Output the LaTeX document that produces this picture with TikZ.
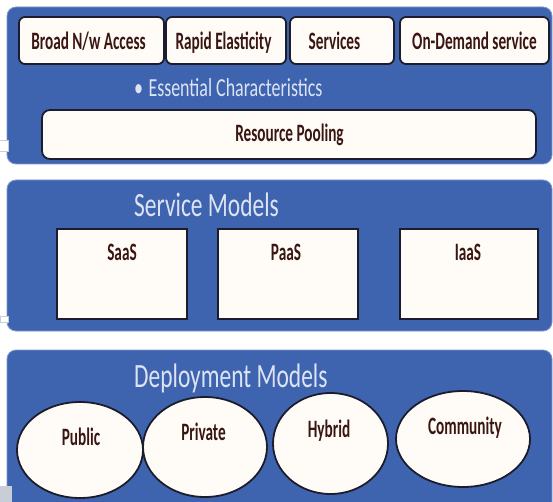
\documentclass[tikz,border=0pt]{standalone}
\usepackage{fontspec}
\setmainfont{Carlito}
\usepackage{graphicx}
\usetikzlibrary{shapes.geometric}

\definecolor{panelblue}{HTML}{3E64B0}
\definecolor{panelrim}{HTML}{7F98CC}
\definecolor{titletext}{HTML}{DDE3F3}
\definecolor{labeltext}{HTML}{3A1612}
\definecolor{boxfill}{HTML}{FFFCF7}
\definecolor{boxline}{HTML}{1C1C2C}
\definecolor{tabgray}{HTML}{C9CDD8}

% condensed lettering used throughout
\newcommand{\condensed}[1]{\scalebox{0.69}[1]{#1}}
\newcommand{\tightlbl}[1]{\scalebox{0.61}[1]{#1}}

\tikzset{
  panel/.style={fill=panelblue, draw=panelrim, line width=0.8pt,
    rounded corners=9pt, inner sep=0pt},
  charbox/.style={draw=boxline, fill=boxfill, line width=1.8pt,
    rounded corners=6pt, inner sep=0pt, minimum height=47pt},
  modelbox/.style={draw=boxline, fill=boxfill, line width=1.8pt,
    inner sep=0pt, minimum height=90pt},
  deploy/.style={ellipse, draw=boxline, fill=boxfill, line width=1.8pt,
    inner sep=0pt},
  lbl/.style={text=labeltext, font=\fontsize{25}{27}\selectfont\bfseries,
    inner sep=0pt, anchor=base},
  heading/.style={text=titletext, inner sep=0pt, anchor=base west},
  tab/.style={draw=tabgray, fill=white, line width=0.6pt, inner sep=0pt},
}

\begin{document}
\begin{tikzpicture}[x=1pt,y=-1pt]
  \useasboundingbox (0,0) rectangle (553,502);
  \clip (0,0) rectangle (553,502);
  \fill[white] (0,0) rectangle (553,502);

  % three layer panels
  \node[panel, minimum width=545pt, minimum height=157pt] (chars)   at (279.5,85.5)  {};
  \node[panel, minimum width=545pt, minimum height=151pt] (service) at (279.5,255.5) {};
  \node[panel, minimum width=545pt, minimum height=170pt] (deployp) at (279.5,435)   {};

  % essential characteristics
  \node[charbox, minimum width=145pt] (broad)  at (91.5,40.5)  {};
  \node[charbox, minimum width=120pt] (rapid)  at (226,40.5)   {};
  \node[charbox, minimum width=104pt] (servs)  at (342,40.5)   {};
  \node[charbox, minimum width=149pt] (demand) at (474.5,40.5) {};
  \node[lbl] (broadt)  at (88.5,50)  {\tightlbl{Broad N/w Access}};
  \node[lbl] (rapidt)  at (223.5,50) {\tightlbl{Rapid Elasticity}};
  \node[lbl] (servst)  at (334.5,50) {\tightlbl{Services}};
  \node[lbl] (demandt) at (474.5,50) {\tightlbl{On-Demand service}};

  \node[heading, font=\fontsize{26}{28}\selectfont] (charst) at (134,97)
    {\condensed{•\hspace{0.3em}Essential Characteristics}};

  \node[charbox, minimum width=494pt, minimum height=49pt, rounded corners=8pt]
    (pool) at (289,134.5) {};
  \node[lbl] (poolt) at (289.5,142) {\tightlbl{Resource Pooling}};

  % service models
  \node[heading, font=\fontsize{34}{36}\selectfont] (servicet) at (134,217)
    {\condensed{Service Models}};
  \node[modelbox, minimum width=130pt] (saas) at (122,274) {};
  \node[modelbox, minimum width=140pt] (paas) at (288,274) {};
  \node[modelbox, minimum width=138pt] (iaas) at (469,274) {};
  \node[lbl] (saast) at (122,260) {\tightlbl{SaaS}};
  \node[lbl] (paast) at (286,260) {\tightlbl{PaaS}};
  \node[lbl] (iaast) at (468,260) {\tightlbl{IaaS}};

  % deployment models
  \node[heading, font=\fontsize{34}{36}\selectfont] (deployt) at (134,387)
    {\condensed{Deployment Models}};
  \node[deploy, minimum width=126pt, minimum height=96pt]  (public)    at (80,450)    {};
  \node[deploy, minimum width=124pt, minimum height=100pt] (private)   at (205,447)   {};
  \node[deploy, minimum width=115pt, minimum height=101pt] (hybrid)    at (330.5,443.5) {};
  \node[deploy, minimum width=134pt, minimum height=96pt]  (community) at (463,439)   {};
  \node[lbl] (publict)    at (81,445)    {\tightlbl{Public}};
  \node[lbl] (privatet)   at (203.5,440) {\tightlbl{Private}};
  \node[lbl] (hybridt)    at (329,437)   {\tightlbl{Hybrid}};
  \node[lbl] (communityt) at (465,434)   {\tightlbl{Community}};

  % small tabs on the left edge
  \node[tab, minimum width=9pt, minimum height=11pt] (tab1) at (4,145.5) {};
  \node[tab, minimum width=8pt, minimum height=6pt]  (tab2) at (4,319)   {};
  \node[tab, fill=tabgray, minimum width=11pt, minimum height=16pt] (tab3) at (5.5,494) {};
\end{tikzpicture}
\end{document}
